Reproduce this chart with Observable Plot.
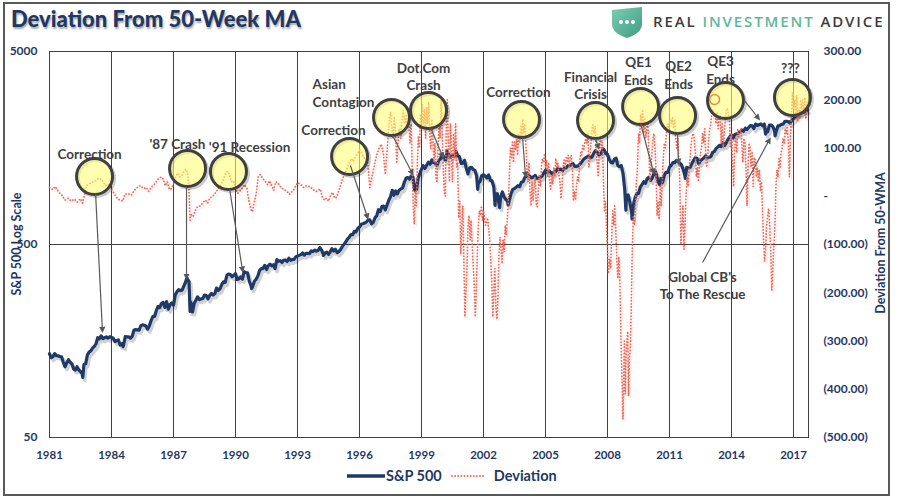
<!DOCTYPE html>
<html><head><meta charset="utf-8">
<script src="https://cdn.jsdelivr.net/npm/d3@7"></script>
<script src="https://cdn.jsdelivr.net/npm/@observablehq/plot@0.6"></script>
<style>
body{margin:0;background:#fff;}
#wrap{position:relative;width:899px;height:503px;overflow:hidden;font-family:Lato,"Open Sans",sans-serif;background:#fff;}
#wrap svg.layer{position:absolute;left:0;top:0;}
#border{position:absolute;left:3px;top:2px;width:887px;height:494px;border:2px solid #595959;box-sizing:border-box;}
#title{position:absolute;left:11px;top:5px;font-size:22px;font-weight:900;color:#1f3864;text-shadow:1px 2px 2px rgba(0,0,0,0.35);white-space:nowrap;}
#logo{position:absolute;left:611px;top:6px;}
#logotext{position:absolute;left:653px;top:11px;font-family:"Open Sans",sans-serif;font-size:15px;font-weight:600;letter-spacing:1.9px;color:#3d3d3d;white-space:nowrap;}
#logotext span{color:#5cb89b;}
.ytitle{position:absolute;font-size:12.5px;font-weight:bold;color:#1f3864;white-space:nowrap;transform:translate(-50%,-50%) rotate(-90deg);}
#legend{position:absolute;left:346px;top:467px;display:flex;align-items:center;font-size:14.5px;font-weight:bold;color:#1f3864;white-space:nowrap;}
</style></head>
<body>
<div id="wrap">
  <div id="title">Deviation From 50-Week MA</div>
  <svg id="logo" width="34" height="34" viewBox="0 0 34 34">
    <defs><linearGradient id="lg" x1="0" y1="0" x2="1" y2="1"><stop offset="0" stop-color="#7ccdb2"/><stop offset="1" stop-color="#3f9c82"/></linearGradient></defs>
    <path d="M1,4 L31,1 L31,18 Q31,27 16,32 Q1,27 1,18 Z" fill="url(#lg)"/>
    <circle cx="10" cy="16" r="2" fill="#fff"/><circle cx="16" cy="16" r="2" fill="#fff"/><circle cx="22" cy="16" r="2" fill="#fff"/>
  </svg>
  <div id="logotext">REAL <span>INVESTMENT</span> ADVICE</div>
  <div class="ytitle" style="left:16px;top:244px;">S&amp;P 500 Log Scale</div>
  <div class="ytitle" style="left:880px;top:243px;">Deviation From 50-WMA</div>
  <div id="legend">
    <svg width="40" height="8"><line x1="1" y1="4" x2="39" y2="4" stroke="#1f3a66" stroke-width="3.5"/></svg>
    <span style="margin-right:8px">S&amp;P 500</span>
    <svg width="38" height="8"><line x1="2" y1="4" x2="35" y2="4" stroke="#f26552" stroke-width="1.8" stroke-dasharray="0.1,3" stroke-linecap="round"/></svg>
    <span style="margin-left:6px">Deviation</span>
  </div>
  <div id="border"></div>
</div>
<script>
// ---------- DATA ----------
const xTicks = [1981,1984,1987,1990,1993,1996,1999,2002,2005,2008,2011,2014,2017];
const spxTicks = [50,500,5000];
const devTicks = [-500,-400,-300,-200,-100,0,100,200,300];

// S&P 500 month-end closes, index 0 = start of 1981
const spx = [135.8,
129.6,131.3,136.0,132.8,132.6,131.2,130.9,122.8,116.2,121.9,126.4,122.6,
120.4,113.1,111.9,116.4,111.9,109.6,107.1,119.5,120.4,133.7,138.5,140.6,
145.3,148.1,153.0,164.4,162.4,168.1,162.6,164.4,166.1,163.6,166.4,164.9,
163.4,157.1,159.2,160.1,150.6,153.2,150.7,166.7,166.1,166.1,163.6,167.2,
179.6,181.2,180.7,179.8,189.6,191.9,190.9,188.6,182.1,189.8,202.2,211.3,
211.8,226.9,238.9,235.5,247.4,250.8,236.1,252.9,231.3,244.0,249.2,242.2,
274.1,284.2,291.7,288.4,290.1,304.0,318.7,329.8,321.8,251.8,230.3,247.1,
257.1,267.8,258.9,261.3,262.2,273.5,272.0,261.5,271.9,279.0,273.7,277.7,
297.5,288.9,294.9,309.6,320.5,318.0,346.1,351.5,349.2,340.4,346.0,353.4,
329.1,331.9,339.9,330.8,361.2,358.0,356.2,322.6,306.1,304.0,322.2,330.2,
343.9,367.1,375.2,375.3,389.8,371.2,387.8,395.4,387.9,392.5,375.2,417.1,
408.8,412.7,403.7,415.0,415.4,408.1,424.2,414.0,417.8,418.7,431.4,435.7,
438.8,443.4,451.7,440.2,450.2,450.5,448.1,463.6,458.9,467.8,461.8,466.5,
481.6,467.1,445.8,450.9,456.5,444.3,458.3,475.5,462.7,472.4,453.7,459.3,
470.4,487.4,500.7,514.7,533.4,544.8,562.1,561.9,584.4,581.5,605.4,615.9,
636.0,640.4,645.5,654.2,669.1,670.6,640.0,652.0,687.3,705.3,757.0,740.7,
786.2,790.8,757.1,801.3,848.3,885.1,954.3,899.5,947.3,914.6,955.4,970.4,
980.3,1049.3,1101.8,1111.8,1090.8,1133.8,1120.7,957.3,1017.0,1098.7,1163.6,1229.2,
1279.6,1238.3,1286.4,1335.2,1301.8,1372.7,1328.7,1320.4,1282.7,1362.9,1388.9,1469.3,
1394.5,1366.4,1498.6,1452.4,1420.6,1454.6,1430.8,1517.7,1436.5,1429.4,1315.2,1320.3,
1366.0,1239.9,1160.3,1249.5,1255.8,1224.4,1211.2,1133.6,1040.9,1059.8,1139.5,1148.1,
1130.2,1106.7,1147.4,1076.9,1067.1,989.8,911.6,916.1,815.3,885.8,936.3,879.8,
855.7,841.2,848.2,916.9,963.6,974.5,990.3,1008.0,996.0,1050.7,1058.2,1111.9,
1131.1,1144.9,1126.2,1107.3,1120.7,1140.8,1101.7,1104.2,1114.6,1130.2,1173.8,1211.9,
1181.3,1203.6,1180.6,1156.9,1191.5,1191.3,1234.2,1220.3,1228.8,1207.0,1249.5,1248.3,
1280.1,1280.7,1294.8,1310.6,1270.1,1270.2,1276.7,1303.8,1335.9,1377.9,1400.6,1418.3,
1438.2,1406.8,1420.9,1482.4,1530.6,1503.4,1455.3,1474.0,1526.8,1549.4,1481.1,1468.4,
1378.6,1330.6,1322.7,1385.6,1400.4,1280.0,1267.4,1282.8,1166.4,968.8,896.2,903.3,
825.9,735.1,797.9,872.8,919.1,919.3,987.5,1020.6,1057.1,1036.2,1095.6,1115.1,
1073.9,1104.5,1169.4,1186.7,1089.4,1030.7,1101.6,1049.3,1141.2,1183.3,1180.6,1257.6,
1286.1,1327.2,1325.8,1363.6,1345.2,1320.6,1292.3,1218.9,1131.4,1253.3,1247.0,1257.6,
1312.4,1365.7,1408.5,1397.9,1310.3,1362.2,1379.3,1406.6,1440.7,1412.2,1416.2,1426.2,
1498.1,1514.7,1569.2,1597.6,1630.7,1606.3,1685.7,1633.0,1681.6,1756.5,1805.8,1848.4,
1782.6,1859.5,1872.3,1884.0,1923.6,1960.2,1930.7,2003.4,1972.3,2018.1,2067.6,2058.9,
1995.0,2104.5,2067.9,2085.5,2107.4,2063.1,2103.8,1972.2,1920.0,2079.4,2080.4,2043.9,
1940.2,1932.2,2059.7,2065.3,2097.0,2098.9,2173.6,2171.0,2168.3,2126.2,2198.8,2238.8,
2278.9,2363.6,2362.7,2384.2,2411.8,2423.4,2470.3,2471.7];

// intra-month extremes [year, close]
const spxExtremes = [[1982.61,102.4],[1984.56,147.8],[1987.65,336.8],[1987.80,224.8],[1987.92,223.9],
[1990.78,295.5],[1994.25,438.9],[1998.76,959.4],[2000.23,1527.5],[2001.72,965.8],[2002.56,797.7],
[2002.78,776.8],[2003.19,800.7],[2007.78,1565.2],[2008.89,752.4],[2009.19,676.5],[2010.51,1022.6],
[2011.76,1099.2],[2015.65,1867.6],[2016.11,1829.1]];

// deviation from 50-week MA [year, points]
const deviation = [
[1981.00,18],[1981.15,14],[1981.30,20],[1981.45,8],[1981.60,2],[1981.75,-8],[1981.90,-4],[1982.05,-10],[1982.20,-6],
[1982.35,-12],[1982.50,-5],[1982.60,-14],[1982.70,4],[1982.80,22],[1982.95,26],[1983.10,30],[1983.25,33],[1983.40,38],
[1983.50,35],[1983.60,30],[1983.70,22],[1983.85,25],[1984.00,14],[1984.15,4],[1984.30,-6],[1984.45,-8],[1984.55,-10],
[1984.65,4],[1984.80,6],[1984.95,2],[1985.10,12],[1985.25,18],[1985.40,22],[1985.55,16],[1985.70,18],[1985.80,10],
[1985.95,20],[1986.10,26],[1986.25,35],[1986.40,40],[1986.50,36],[1986.60,22],[1986.70,30],[1986.80,14],[1986.90,16],
[1987.00,25],[1987.10,40],[1987.20,48],[1987.30,40],[1987.40,42],[1987.50,52],[1987.60,56],[1987.70,45],[1987.75,10],
[1987.80,-50],[1987.85,-38],[1987.95,-42],[1988.05,-30],[1988.15,-22],[1988.30,-20],[1988.45,-12],[1988.55,-8],
[1988.65,-14],[1988.75,-4],[1988.90,0],[1989.05,8],[1989.20,18],[1989.35,28],[1989.50,45],[1989.60,52],[1989.70,46],
[1989.80,30],[1989.90,32],[1990.00,18],[1990.10,6],[1990.20,10],[1990.35,18],[1990.45,24],[1990.55,16],[1990.65,-10],
[1990.75,-28],[1990.82,-32],[1990.92,-10],[1991.00,5],[1991.10,40],[1991.20,45],[1991.30,38],[1991.45,30],[1991.55,24],
[1991.65,32],[1991.75,22],[1991.85,12],[1991.95,30],[1992.05,28],[1992.20,18],[1992.35,14],[1992.50,10],[1992.60,4],
[1992.70,8],[1992.80,12],[1992.90,20],[1993.00,28],[1993.15,25],[1993.30,18],[1993.45,22],[1993.60,20],[1993.75,14],
[1993.90,10],[1994.00,12],[1994.10,15],[1994.20,-2],[1994.30,-8],[1994.40,-4],[1994.50,-10],[1994.60,2],[1994.70,8],
[1994.80,-4],[1994.90,-2],[1995.00,12],[1995.10,24],[1995.20,38],[1995.30,48],[1995.40,58],[1995.50,70],[1995.60,78],
[1995.70,72],[1995.80,82],[1995.90,88],[1996.00,96],[1996.10,90],[1996.20,80],[1996.30,78],[1996.40,70],[1996.50,18],
[1996.55,30],[1996.65,50],[1996.75,70],[1996.85,88],[1996.95,100],[1997.05,108],[1997.15,90],[1997.25,45],[1997.30,75],
[1997.38,120],[1997.45,160],[1997.50,175],[1997.55,150],[1997.62,120],[1997.68,165],[1997.75,130],[1997.80,68],
[1997.86,110],[1997.92,140],[1998.00,120],[1998.05,160],[1998.12,178],[1998.20,150],[1998.26,170],[1998.32,145],
[1998.38,165],[1998.44,110],[1998.50,150],[1998.55,60],[1998.60,-20],[1998.65,-58],[1998.70,10],[1998.75,-20],
[1998.80,70],[1998.85,125],[1998.90,100],[1998.95,170],[1999.00,140],[1999.05,190],[1999.10,150],[1999.15,180],
[1999.20,120],[1999.25,185],[1999.30,150],[1999.35,195],[1999.40,130],[1999.45,98],[1999.50,160],[1999.55,120],
[1999.60,70],[1999.65,110],[1999.70,40],[1999.75,28],[1999.80,100],[1999.85,150],[1999.90,120],[1999.95,200],
[2000.00,140],[2000.05,60],[2000.10,10],[2000.15,0],[2000.20,150],[2000.25,200],[2000.30,100],[2000.35,30],
[2000.40,150],[2000.45,90],[2000.50,30],[2000.55,130],[2000.60,80],[2000.65,150],[2000.70,60],[2000.75,70],
[2000.80,-45],[2000.85,-10],[2000.90,-120],[2000.95,-60],[2001.00,-20],[2001.05,-130],[2001.10,-250],[2001.15,-200],
[2001.20,-150],[2001.25,-60],[2001.30,-40],[2001.35,-90],[2001.40,-50],[2001.45,-100],[2001.50,-140],[2001.55,-180],
[2001.60,-250],[2001.65,-200],[2001.70,-120],[2001.75,-60],[2001.80,-30],[2001.85,-40],[2001.90,-20],[2001.95,-50],
[2002.00,-30],[2002.10,-60],[2002.20,-45],[2002.30,-90],[2002.35,-130],[2002.40,-180],[2002.45,-250],[2002.50,-200],
[2002.55,-150],[2002.60,-230],[2002.65,-255],[2002.70,-210],[2002.75,-120],[2002.80,-85],[2002.85,-110],[2002.90,-140],
[2002.95,-90],[2003.00,-115],[2003.05,-60],[2003.10,-80],[2003.15,-50],[2003.20,-10],[2003.25,40],[2003.30,100],
[2003.35,80],[2003.40,112],[2003.45,70],[2003.50,115],[2003.55,95],[2003.60,118],[2003.65,85],[2003.70,130],
[2003.75,110],[2003.80,145],[2003.85,125],[2003.90,160],[2003.95,130],[2004.00,150],[2004.05,110],[2004.10,60],
[2004.15,30],[2004.20,70],[2004.25,10],[2004.30,-20],[2004.35,30],[2004.40,-10],[2004.45,20],[2004.50,40],
[2004.55,-15],[2004.60,-22],[2004.65,10],[2004.70,45],[2004.75,20],[2004.80,60],[2004.85,78],[2004.90,70],
[2004.95,85],[2005.00,60],[2005.05,75],[2005.10,40],[2005.15,70],[2005.20,30],[2005.25,15],[2005.30,45],
[2005.35,25],[2005.40,60],[2005.45,40],[2005.50,78],[2005.55,60],[2005.60,70],[2005.65,45],[2005.70,30],
[2005.75,-5],[2005.80,20],[2005.85,60],[2005.90,75],[2005.95,55],[2006.00,80],[2006.05,70],[2006.10,85],
[2006.15,60],[2006.20,80],[2006.25,85],[2006.30,60],[2006.35,-10],[2006.40,10],[2006.45,-8],[2006.50,20],
[2006.55,40],[2006.60,30],[2006.65,70],[2006.70,90],[2006.75,85],[2006.80,105],[2006.85,95],[2006.90,110],
[2006.95,120],[2007.00,110],[2007.05,130],[2007.10,60],[2007.15,80],[2007.20,110],[2007.25,140],[2007.30,148],
[2007.35,130],[2007.40,145],[2007.45,100],[2007.50,70],[2007.55,40],[2007.60,90],[2007.65,120],[2007.70,100],
[2007.75,115],[2007.80,40],[2007.85,-30],[2007.90,-10],[2007.95,-60],[2008.00,-110],[2008.05,-160],[2008.10,-130],
[2008.15,-150],[2008.20,-90],[2008.25,-30],[2008.30,-60],[2008.35,-20],[2008.40,-70],[2008.45,-130],[2008.50,-170],
[2008.55,-125],[2008.60,-180],[2008.65,-290],[2008.70,-380],[2008.75,-462],[2008.78,-380],[2008.82,-300],
[2008.86,-410],[2008.90,-330],[2008.94,-300],[2008.98,-280],[2009.02,-414],[2009.06,-340],[2009.11,-311],
[2009.16,-200],[2009.20,-110],[2009.25,-40],[2009.30,-60],[2009.35,-21],[2009.40,30],[2009.45,60],[2009.50,130],
[2009.55,110],[2009.60,170],[2009.65,150],[2009.70,180],[2009.75,130],[2009.80,160],[2009.85,120],[2009.90,140],
[2009.95,150],[2010.00,100],[2010.05,30],[2010.10,60],[2010.15,90],[2010.20,120],[2010.25,130],[2010.30,100],
[2010.35,50],[2010.40,-40],[2010.45,-10],[2010.50,-48],[2010.55,20],[2010.60,-20],[2010.65,30],[2010.70,80],
[2010.75,110],[2010.80,100],[2010.85,130],[2010.90,150],[2010.95,140],[2011.00,155],[2011.05,160],[2011.10,150],
[2011.15,165],[2011.20,140],[2011.25,160],[2011.30,120],[2011.35,100],[2011.40,120],[2011.45,80],[2011.50,30],
[2011.55,-100],[2011.60,-60],[2011.65,-20],[2011.70,-110],[2011.75,-60],[2011.80,0],[2011.85,40],[2011.90,20],
[2011.95,60],[2012.00,80],[2012.05,110],[2012.10,125],[2012.15,130],[2012.20,120],[2012.25,90],[2012.30,40],
[2012.35,60],[2012.40,30],[2012.45,70],[2012.50,90],[2012.55,100],[2012.60,130],[2012.65,110],[2012.70,140],
[2012.75,90],[2012.80,60],[2012.85,80],[2012.90,120],[2012.95,140],[2013.00,150],[2013.05,175],[2013.10,180],
[2013.15,165],[2013.20,170],[2013.25,150],[2013.30,175],[2013.35,140],[2013.40,160],[2013.45,166],[2013.50,110],
[2013.55,150],[2013.60,100],[2013.65,130],[2013.70,160],[2013.75,178],[2013.80,182],[2013.85,170],[2013.90,160],
[2013.95,100],[2014.00,130],[2014.05,70],[2014.10,20],[2014.15,100],[2014.20,120],[2014.25,90],[2014.30,140],
[2014.35,120],[2014.40,135],[2014.45,140],[2014.50,110],[2014.55,70],[2014.60,120],[2014.65,110],[2014.70,60],
[2014.75,-20],[2014.80,60],[2014.85,110],[2014.90,100],[2014.95,60],[2015.00,90],[2015.05,20],[2015.10,80],
[2015.15,75],[2015.20,40],[2015.25,60],[2015.30,30],[2015.35,55],[2015.40,10],[2015.45,30],[2015.50,-30],
[2015.55,-90],[2015.60,-135],[2015.65,-110],[2015.70,-60],[2015.75,-40],[2015.80,-25],[2015.85,-60],[2015.90,-120],
[2015.95,-195],[2016.00,-150],[2016.05,-100],[2016.10,-62],[2016.15,20],[2016.20,55],[2016.25,40],[2016.30,78],
[2016.35,60],[2016.40,90],[2016.45,100],[2016.50,120],[2016.55,110],[2016.60,140],[2016.65,130],[2016.70,145],
[2016.75,110],[2016.80,40],[2016.85,120],[2016.90,170],[2016.95,215],[2017.00,180],[2017.05,200],[2017.10,160],
[2017.15,210],[2017.20,155],[2017.25,180],[2017.30,160],[2017.35,200],[2017.40,180],[2017.45,200],[2017.50,175],
[2017.55,205],[2017.60,160],[2017.65,195],[2017.70,190]];

// annotation circles [year, deviation]
const circles = [[1983.18,40.9],[1987.68,57.5],[1989.66,51.3],[1995.52,82.4],[1997.55,163.2],[1999.34,177.7],
[2003.84,159.1],[2007.42,157],[2009.60,186],[2011.39,167.4],[2013.71,198.4],[2016.95,204.7]];
const ring = [[2013.18,200.5]];
// annotation labels [year, deviation, text]
const labels = [[1982.94,88.6,"Correction"],[1987.19,109.3,"'87 Crash"],[1990.68,103.1,"'91 Recession"],
[1994.74,138.3,"Correction"],[1999.10,249.2,"Dot.Com\nCrash"],[2003.69,217.1,"Correction"],
[2007.18,230.6,"Financial\nCrisis"],[2009.50,260.6,"QE1\nEnds"],[2011.44,252.3,"QE2\nEnds"],
[2013.47,262.7,"QE3\nEnds"],[2016.85,266.8,"???"],[2012.60,-184,"Global CB's\nTo The Rescue"]];
const labelsLeft = [[1993.73,215,"Asian\nContagion"]];
// arrows [year1, spx1, year2, spx2] on the S&P log scale
const arrows = [[1983.23,918,1983.56,179],[1987.63,987,1987.63,337],[1989.71,975,1990.34,367],
[1995.56,1283,1996.39,690],[1997.60,1835,1998.56,1166],[1999.44,2020,2000.02,1428],
[2003.89,1792,2004.03,1139],[2007.42,1770,2007.56,1590],[2009.60,2118,2010.23,1180],
[2011.39,1902,2011.43,1330],[2014.63,2786,2015.31,2248],[2012.60,403,2015.84,1750]];

// ---------- CHART ----------
const navy = "#1f3864", spxColor = "#1f3a66", red = "#f26552", gray = "#404040";
const dims = {width:899, height:503, marginTop:51, marginRight:91, marginBottom:66, marginLeft:49};
const xDomain = [1981, 2017.726];
const font = "Lato, 'Open Sans', sans-serif";
const styleBase = {background:"transparent", color:navy, fontFamily:font, fontWeight:"bold", overflow:"visible"};

const spxData = spx.map((v,i)=>({t:1981+i/12, v})).concat(spxExtremes.map(([t,v])=>({t,v}))).sort((a,b)=>a.t-b.t);
const devData = deviation.map(([t,v])=>({t,v}));
const acct = v => v === 0 ? "-" : v < 0 ? `(${(-v).toFixed(2)})` : v.toFixed(2);

const base = Plot.plot({
  ...dims, style: styleBase,
  x: {domain: xDomain},
  y: {type: "log", domain: [50, 5000]},
  marks: [
    Plot.ruleX(xTicks.slice(1), {stroke: gray, strokeWidth: 1}),
    Plot.ruleY([500], {stroke: gray, strokeWidth: 1}),
    Plot.frame({stroke: gray, strokeWidth: 1}),
    Plot.line(spxData, {x: "t", y: "v", stroke: "#000", strokeOpacity: 0.18, strokeWidth: 3.5, dx: 2, dy: 3}),
    Plot.line(spxData, {x: "t", y: "v", stroke: spxColor, strokeWidth: 3.2}),
    Plot.axisY({ticks: spxTicks, tickFormat: d => String(d), tickSize: 0, tickPadding: 12, fontSize: 12, label: null}),
    Plot.axisX({ticks: xTicks, tickFormat: d => String(d), tickSize: 0, tickPadding: 13, fontSize: 11.5, label: null})
  ]
});

const devPlot = Plot.plot({
  ...dims, style: styleBase,
  x: {domain: xDomain, axis: null},
  y: {domain: [-500, 300]},
  marks: [
    Plot.line(devData, {x: "t", y: "v", stroke: "#000", strokeOpacity: 0.07, strokeWidth: 1.8, strokeDasharray: "0.1,3", strokeLinecap: "round", dx: 2, dy: 2}),
    Plot.line(devData, {x: "t", y: "v", stroke: red, strokeWidth: 1.8, strokeDasharray: "0.1,3", strokeLinecap: "round"}),
    Plot.axisY({anchor: "right", ticks: devTicks, tickFormat: acct, tickSize: 0, tickPadding: 15, fontSize: 12, label: null, textAnchor: "start"}),
    Plot.dot(circles, {x: d => d[0], y: d => d[1], r: 18, fill: "none", stroke: "#000", strokeOpacity: 0.2, strokeWidth: 3, dx: 2, dy: 2}),
    Plot.dot(circles, {x: d => d[0], y: d => d[1], r: 18, fill: "#ffff7a", fillOpacity: 0.6, stroke: gray, strokeWidth: 3}),
    Plot.dot(ring, {x: d => d[0], y: d => d[1], r: 5, fill: "none", stroke: "#f08a3a", strokeWidth: 1.5}),
    Plot.text(labels, {x: d => d[0], y: d => d[1], text: d => d[2], fontSize: 13.5, fill: gray, lineHeight: 1.28}),
    Plot.text(labelsLeft, {x: d => d[0], y: d => d[1], text: d => d[2], fontSize: 13.5, fill: gray, lineHeight: 1.28, textAnchor: "start"})
  ]
});

const arrowPlot = Plot.plot({
  ...dims, style: styleBase,
  x: {domain: xDomain, axis: null},
  y: {type: "log", domain: [50, 5000], axis: null},
  marks: [
    Plot.link(arrows, {x1: d => d[0], y1: d => d[1], x2: d => d[2], y2: d => d[3], stroke: "#595959", strokeWidth: 1.2, markerEnd: "arrow"})
  ]
});

[base, devPlot, arrowPlot].forEach(s => { s.classList.add("layer"); document.getElementById("wrap").insertBefore(s, document.getElementById("border")); });

arrowPlot.querySelectorAll("marker").forEach(m => {
  m.setAttribute("fill", "#595959"); m.setAttribute("stroke", "none");
  const p = m.querySelector("path"); if (p) p.setAttribute("d", "M-5,-4L3,0L-5,4Z");
});
</script>
</body></html>
